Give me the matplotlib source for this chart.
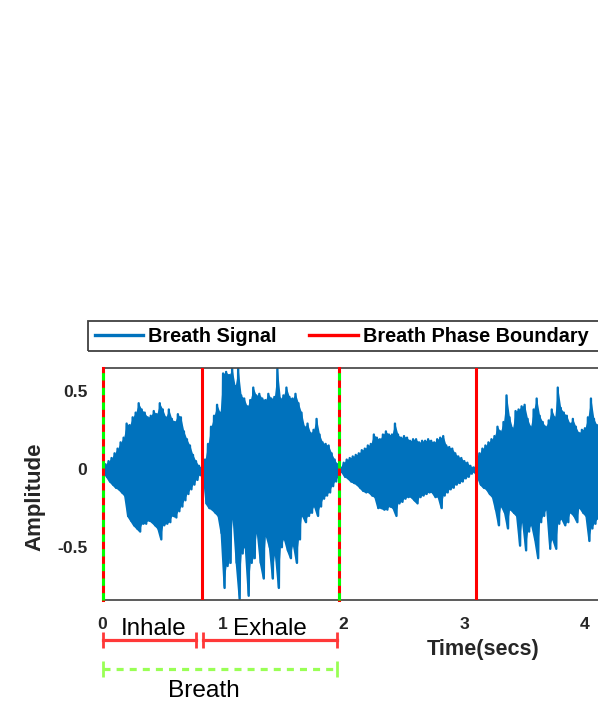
import numpy as np
import matplotlib
matplotlib.use('Agg')
import matplotlib.pyplot as plt
from matplotlib.lines import Line2D
from matplotlib.patches import Rectangle
from matplotlib.transforms import blended_transform_factory

plt.rcParams['font.family'] = ['Liberation Sans', 'DejaVu Sans']

# signal peaks, one pair every 25 ms
dt = 0.025
upper = [0.02, 0.03, 0.05, 0.07, 0.10, 0.13, 0.17, 0.20, 0.29, 0.28,
         0.33, 0.36, 0.42, 0.38, 0.36, 0.33, 0.34, 0.37, 0.35, 0.42,
         0.38, 0.33, 0.38, 0.32, 0.30, 0.35, 0.33, 0.24, 0.19, 0.15,
         0.09, 0.05, 0.02, 0.01,
         0.06, 0.16, 0.27, 0.34, 0.41, 0.36, 0.61, 0.62, 0.60, 0.64,
         0.53, 0.64, 0.47, 0.45, 0.40, 0.44, 0.52, 0.47, 0.48, 0.45,
         0.44, 0.48, 0.45, 0.46, 0.64, 0.45, 0.47, 0.52, 0.46, 0.45,
         0.48, 0.42, 0.36, 0.27, 0.29, 0.23, 0.25, 0.32, 0.22, 0.17,
         0.16, 0.15, 0.10, 0.06, 0.03, 0.01,
         0.04, 0.06, 0.07, 0.08, 0.09, 0.10, 0.12, 0.13, 0.15, 0.16,
         0.22, 0.20, 0.19, 0.22, 0.24, 0.22, 0.22, 0.29, 0.22, 0.20,
         0.21, 0.20, 0.18, 0.19, 0.19, 0.17, 0.18, 0.18, 0.19, 0.18,
         0.17, 0.19, 0.20, 0.21, 0.15, 0.14, 0.13, 0.10, 0.08, 0.07,
         0.05, 0.04, 0.02, 0.01,
         0.03, 0.10, 0.13, 0.15, 0.17, 0.19, 0.21, 0.27, 0.24, 0.30,
         0.47, 0.33, 0.26, 0.37, 0.38, 0.40, 0.41, 0.32, 0.27, 0.38,
         0.45, 0.34, 0.30, 0.27, 0.31, 0.38, 0.33, 0.52, 0.39, 0.36,
         0.34, 0.29, 0.32, 0.27, 0.23, 0.25, 0.26, 0.33, 0.45, 0.32,
         0.28, 0.24]
lower = [-0.02, -0.05, -0.08, -0.10, -0.12, -0.13, -0.15, -0.17, -0.30, -0.33,
         -0.36, -0.38, -0.40, -0.35, -0.35, -0.33, -0.34, -0.36, -0.38, -0.45,
         -0.36, -0.35, -0.34, -0.30, -0.31, -0.27, -0.24, -0.20, -0.16, -0.13,
         -0.10, -0.07, -0.04, -0.02,
         -0.22, -0.25, -0.26, -0.28, -0.30, -0.41, -0.76, -0.62, -0.60, -0.32,
         -0.60, -0.83, -0.54, -0.50, -0.81, -0.60, -0.57, -0.41, -0.60, -0.70,
         -0.43, -0.50, -0.70, -0.55, -0.76, -0.50, -0.45, -0.52, -0.57, -0.49,
         -0.60, -0.45, -0.30, -0.34, -0.30, -0.28, -0.24, -0.30, -0.24, -0.19,
         -0.17, -0.15, -0.11, -0.08, -0.05, -0.02,
         -0.05, -0.06, -0.08, -0.09, -0.10, -0.12, -0.14, -0.15, -0.15, -0.17,
         -0.18, -0.25, -0.25, -0.26, -0.26, -0.24, -0.25, -0.30, -0.22, -0.21,
         -0.19, -0.18, -0.18, -0.20, -0.22, -0.18, -0.17, -0.16, -0.15, -0.15,
         -0.18, -0.18, -0.25, -0.17, -0.15, -0.13, -0.12, -0.10, -0.09, -0.08,
         -0.06, -0.05, -0.03, -0.02,
         -0.05, -0.10, -0.12, -0.13, -0.16, -0.18, -0.26, -0.36, -0.24, -0.28,
         -0.38, -0.26, -0.28, -0.30, -0.49, -0.34, -0.52, -0.40, -0.36, -0.45,
         -0.57, -0.34, -0.30, -0.26, -0.51, -0.45, -0.51, -0.35, -0.32, -0.36,
         -0.34, -0.28, -0.30, -0.34, -0.25, -0.28, -0.30, -0.46, -0.38, -0.35,
         -0.32, -0.30]

# phase boundaries (secs)
solid_bounds = [0.822, 3.097]
breath_bounds = [0.0, 1.965]

# annotation brackets below the axis
phase_names = ['Inhale', 'Exhale']
phase_spans = [(0.0, 0.775), (0.83, 1.947)]
phase_text_x = [0.42, 1.39]
breath_span = (0.0, 1.947)
breath_text_x = 0.84

xticks = [0, 1, 2, 3, 4]
yticks = [-0.5, 0, 0.5]
ytick_labels = ['-0.5', '0', '0.5']

blue = '#0072BD'
W, H = 598, 702

fig = plt.figure(figsize=(W / 100, H / 100), dpi=100)
ax = fig.add_axes([102.5 / W, 102 / H, 761 / W, 232 / H])

t = np.arange(len(upper)) * dt
xs = np.empty(2 * len(t))
ys = np.empty(2 * len(t))
xs[0::2] = t
xs[1::2] = t + dt / 2
ys[0::2] = upper
ys[1::2] = lower
ax.fill_between(t, lower, upper, color=blue, lw=0, zorder=2)
ax.plot(xs, ys, color=blue, lw=1.7, zorder=2)

for b in solid_bounds:
    ax.axvline(b, color='#FF0000', lw=2.2, zorder=3)
for b in breath_bounds:
    ax.axvline(b, color='#FF0000', lw=2.2, zorder=3, clip_on=False)
    ax.axvline(b, color='#00FF00', lw=2.2, ls=(0, (2.4, 2.4)), zorder=4,
               clip_on=False)

ax.set_xlim(0, 6.31)
ax.set_ylim(-0.837, 0.645)
ax.set_xticks(xticks)
ax.set_yticks(yticks)
ax.set_yticklabels(ytick_labels)
ax.tick_params(length=0, labelsize=12.6, labelcolor='#262626')
ax.tick_params(axis='x', pad=12)
ax.tick_params(axis='y', pad=11)
for lab in ax.get_xticklabels() + ax.get_yticklabels():
    lab.set_fontweight('bold')
for sp in ax.spines.values():
    sp.set_color('#404040')
    sp.set_linewidth(1.2)

ax.set_xlabel('Time(secs)', fontsize=15.6, fontweight='bold', color='#262626')
ax.xaxis.label.set_va('center')
ax.xaxis.set_label_coords(0.5, -(649 - 600) / 232)
ax.set_ylabel('Amplitude', fontsize=16, fontweight='bold', color='#262626')
ax.yaxis.label.set_va('center')
ax.yaxis.set_label_coords((35 - 102.5) / 761, (600 - 497) / 232)

# brackets: x in data, y in figure
tr = blended_transform_factory(ax.transData, fig.transFigure)
y_red = 1 - 640 / H
y_green = 1 - 669 / H
for (a, b), name, tx in zip(phase_spans, phase_names, phase_text_x):
    ax.plot([a, b], [y_red, y_red], transform=tr, clip_on=False,
            color='#FF3838', lw=2.3, marker='|', ms=11, mew=2.0)
    ax.text(tx, 1 - 635 / H, name, transform=tr, ha='center', va='baseline',
            fontsize=17.4, color='black')
ax.plot(list(breath_span), [y_green, y_green], transform=tr, clip_on=False,
        color='#99FF55', lw=2.3, ls=(0, (2.2, 1.9)))
ax.plot(list(breath_span), [y_green, y_green], transform=tr, clip_on=False,
        color='#99FF55', ls='none', marker='|', ms=11, mew=2.0)
ax.text(breath_text_x, 1 - 697 / H, 'Breath', transform=tr, ha='center',
        va='baseline', fontsize=17.6, color='black')

# legend, its box runs off the right edge like the reference
fig.add_artist(Rectangle((88.3 / W, 1 - 351 / H), 2.0, 30 / H,
                         transform=fig.transFigure, fill=False,
                         edgecolor='#404040', lw=1.3, zorder=1))
handles = [Line2D([], [], color=blue, lw=2.4),
           Line2D([], [], color='#FF0000', lw=2.4)]
fig.legend(handles, ['Breath Signal', 'Breath Phase Boundary'],
           loc='center left', bbox_to_anchor=(95 / W, 1 - 336 / H),
           ncol=2, frameon=False, borderpad=0, borderaxespad=0,
           handlelength=2.42, handletextpad=0.25, columnspacing=1.66,
           prop={'weight': 'bold', 'size': 14.3})

fig.savefig('out.png', dpi=100)
